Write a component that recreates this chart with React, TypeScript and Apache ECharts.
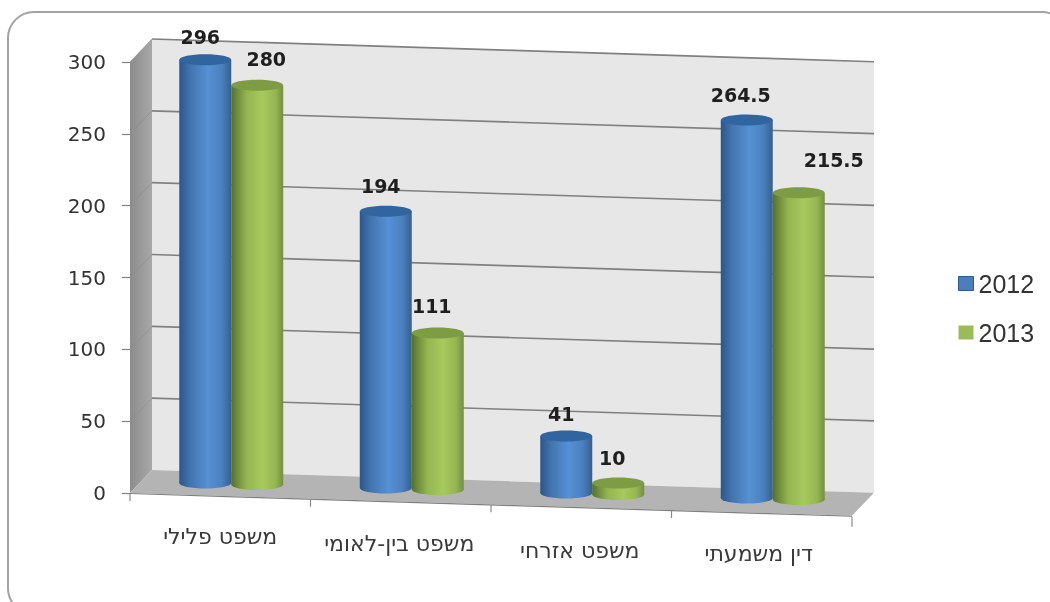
import React, { useEffect, useRef } from "react";
import * as echarts from "echarts";

const categories = ["משפט פלילי", "משפט בין-לאומי", "משפט אזרחי", "דין משמעתי"];
const years = ["2012", "2013"];
const values2012 = [296, 194, 41, 264.5];
const values2013 = [280, 111, 10, 215.5];
const labels2012 = ["296", "194", "41", "264.5"];
const labels2013 = ["280", "111", "10", "215.5"];
const yTicks = [0, 50, 100, 150, 200, 250, 300];

// Layout constants of the oblique projection
const FLOOR_SLOPE = 0.0315;
const BAR_SLOPE = 0.0275;
const DEPTH_X = 22;
const DEPTH_Y = -23;
const BAR_RATIO = 0.288;
const BAR_RY = 5;
const TOP_DROP = [2, 3];
const labelNudge2012 = [[-5, -21], [-5, -23], [-5, -20], [-6, -23]];
const labelNudge2013 = [[9, -23], [-6, -24], [-6, -22], [35, -30]];

const vGrad = (stops: [number, string][]) =>
  new echarts.graphic.LinearGradient(0, 0, 1, 0, stops.map(([offset, color]) => ({ offset, color })));

const palettes = [
  {
    body: [[0, "#2b5688"], [0.2, "#4273ad"], [0.55, "#5591d4"], [0.82, "#4a80bf"], [1, "#35608f"]] as [number, string][],
    top: "#30659f",
  },
  {
    body: [[0, "#54702c"], [0.12, "#6f8d3c"], [0.3, "#94b551"], [0.6, "#a7c95d"], [0.85, "#95b652"], [1, "#728f40"]] as [number, string][],
    top: "#7d9c44",
  },
];

const frameItem = (_params: any, api: any) => {
  const org = api.coord([0, 0]);
  const bw = api.size([1, 0])[0];
  const left = org[0] - bw / 2;
  const right = left + bw * categories.length;
  const y0 = org[1];
  const yTop = api.coord([0, 300])[1];
  const dyR = (right - left) * FLOOR_SLOPE;
  const children: any[] = [];
  // back wall
  children.push({
    type: "polygon",
    shape: { points: [[left + DEPTH_X, yTop + DEPTH_Y], [right + DEPTH_X, yTop + DEPTH_Y + dyR], [right + DEPTH_X, y0 + DEPTH_Y + dyR], [left + DEPTH_X, y0 + DEPTH_Y]] },
    style: { fill: "#e7e7e7" },
  });
  // side wall
  children.push({
    type: "polygon",
    shape: { points: [[left, yTop], [left + DEPTH_X, yTop + DEPTH_Y], [left + DEPTH_X, y0 + DEPTH_Y], [left, y0]] },
    style: { fill: vGrad([[0, "#8c8c8c"], [1, "#a8a8a8"]]) },
  });
  // floor
  children.push({
    type: "polygon",
    shape: { points: [[left, y0], [right, y0 + dyR], [right + DEPTH_X, y0 + DEPTH_Y + dyR], [left + DEPTH_X, y0 + DEPTH_Y]] },
    style: { fill: "#b4b4b4" },
  });
  // gridlines
  yTicks.forEach((v) => {
    const y = api.coord([0, v])[1];
    if (v > 0) {
      children.push({
        type: "polyline",
        shape: { points: [[left + DEPTH_X, y + DEPTH_Y], [right + DEPTH_X, y + DEPTH_Y + dyR]] },
        style: { fill: null, stroke: "#808080", lineWidth: 1.6 },
      });
      children.push({
        type: "polyline",
        shape: { points: [[left, y], [left + DEPTH_X, y + DEPTH_Y]] },
        style: { fill: null, stroke: "#8a8a8a", lineWidth: 0.6 },
      });
    }
  });
  // front edge of the floor
  children.push({
    type: "line",
    shape: { x1: left, y1: y0 + 0.5, x2: right, y2: y0 + dyR + 0.5 },
    style: { stroke: "#7f7f7f", lineWidth: 1.2 },
  });
  // category ticks
  for (let i = 0; i <= categories.length; i++) {
    const x = left + bw * i;
    const y = y0 + (x - left) * FLOOR_SLOPE;
    children.push({
      type: "line",
      shape: { x1: x, y1: y + 1, x2: x, y2: y + 8 + (i === categories.length ? 3 : 0) },
      style: { stroke: "#8a8a8a", lineWidth: 1.2 },
    });
  }
  return { type: "group", children };
};

const barItem = (seriesIdx: number, texts: string[], nudges: number[][]) => (_params: any, api: any) => {
  const idx = api.value(0);
  const val = api.value(1);
  const org = api.coord([0, 0]);
  const bw = api.size([1, 0])[0];
  const left = org[0] - bw / 2;
  const width = bw * BAR_RATIO;
  const centerBand = api.coord([idx, 0])[0];
  const cx = centerBand + 11 + (seriesIdx === 0 ? -width / 2 : width / 2);
  const shift = -12 + (cx - left) * BAR_SLOPE;
  const yBase = org[1] + shift;
  const yVal = api.coord([idx, val])[1] + shift;
  const yCap = yVal + TOP_DROP[seriesIdx];
  const pal = palettes[seriesIdx];
  const rx = width / 2;
  const [nx, ny] = nudges[idx];
  return {
    type: "group",
    children: [
      { type: "ellipse", shape: { cx, cy: yBase, rx, ry: BAR_RY + 0.5 }, style: { fill: vGrad(pal.body) } },
      { type: "rect", shape: { x: cx - rx, y: yCap, width, height: yBase - yCap }, style: { fill: vGrad(pal.body) } },
      { type: "ellipse", shape: { cx, cy: yCap, rx, ry: BAR_RY + 0.5 }, style: { fill: pal.top } },
      {
        type: "text",
        x: cx + nx,
        y: yVal + ny,
        style: {
          text: texts[idx],
          fill: "#1f1f1f",
          font: "bold 19px 'DejaVu Sans'",
          align: "center",
          verticalAlign: "middle",
        },
      },
    ],
  };
};

const catPaddingTop = [0, 7, 14, 17];
const catPaddingRight = [0, 3, 3, 6];

export default function App() {
  const ref = useRef<HTMLDivElement>(null);
  useEffect(() => {
    const chart = echarts.init(ref.current!, undefined, { renderer: "svg" });
    const rich: any = {};
    categories.forEach((_c, i) => {
      rich["c" + i] = {
        fontFamily: "DejaVu Sans",
        fontSize: 22,
        color: "#3a3a3a",
        padding: [catPaddingTop[i], catPaddingRight[i], 0, 0],
      };
    });
    chart.setOption({
      animation: false,
      backgroundColor: "#ffffff",
      graphic: [
        {
          type: "rect",
          silent: true,
          shape: { x: 8, y: 12, width: 1060, height: 602, r: 26 },
          style: { fill: "none", stroke: "#a3a3a3", lineWidth: 2 },
        },
      ],
      grid: { left: 130, top: 62, width: 722, height: 431, containLabel: false },
      xAxis: {
        type: "category",
        data: categories,
        axisLine: { show: false },
        axisTick: { show: false },
        splitLine: { show: false },
        axisLabel: {
          margin: 32,
          interval: 0,
          formatter: (value: string, index: number) => `{c${index}|${value}}`,
          rich,
        },
      },
      yAxis: {
        type: "value",
        min: 0,
        max: 300,
        interval: 50,
        axisLine: { show: false },
        splitLine: { show: false },
        axisTick: { show: true, length: 8, lineStyle: { color: "#808080", width: 1.2 } },
        axisLabel: { margin: 24, color: "#333333", fontFamily: "DejaVu Sans", fontSize: 20 },
      },
      legend: {
        orient: "vertical",
        left: 958,
        top: 271,
        padding: 0,
        itemGap: 24,
        itemWidth: 15,
        itemHeight: 14,
        textStyle: { fontFamily: "Liberation Sans", fontSize: 25, color: "#333333" },
        data: [
          { name: years[0], icon: "rect", itemStyle: { color: "#4a7fb9", borderColor: "#2c5c92", borderWidth: 1 } },
          { name: years[1], icon: "rect", itemStyle: { color: "#9bbb59", borderWidth: 0 } },
        ],
      },
      series: [
        {
          type: "custom",
          name: "frame",
          z: 1,
          silent: true,
          clip: false,
          encode: { x: 0, y: 1 },
          data: [[0, 0]],
          renderItem: frameItem,
        },
        {
          type: "custom",
          name: years[0],
          z: 3,
          clip: false,
          itemStyle: { color: "#4f81bd" },
          encode: { x: 0, y: 1 },
          data: values2012.map((v, i) => [i, v]),
          renderItem: barItem(0, labels2012, labelNudge2012),
        },
        {
          type: "custom",
          name: years[1],
          z: 4,
          clip: false,
          itemStyle: { color: "#9bbb59" },
          encode: { x: 0, y: 1 },
          data: values2013.map((v, i) => [i, v]),
          renderItem: barItem(1, labels2013, labelNudge2013),
        },
      ],
    });
    return () => chart.dispose();
  }, []);
  return <div ref={ref} style={{ position: "absolute", left: 0, top: 0, width: 1050, height: 602, filter: "blur(0.5px)" }} />;
}
